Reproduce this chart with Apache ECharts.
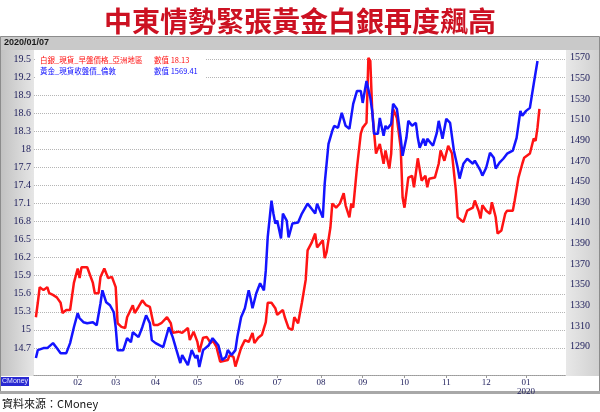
<!DOCTYPE html>
<html><head><meta charset="utf-8">
<script src="https://cdn.jsdelivr.net/npm/echarts@6/dist/echarts.min.js"></script>
<style>html,body{margin:0;padding:0;background:#fff;}#c{width:600px;height:412px;}</style>
</head><body><div id="c"></div>
<script>
// ---- data (trading-day index from 2019-01-01, value) ----
const silverDays = [1,2,3,5,7,8,10,12,14,15,17,19,21,23,24,25,28,29,31,32,34,35,37,39,41,43,44,46,48,49,52,53,55,57,59,61,63,65,67,70,72,73,76,78,81,82,84,86,87,89,91,93,94,96,98,99,102,103,105,106,107,109,111,113,115,116,118,120,122,123,125,127,128,131,132,134,136,137,139,141,143,144,146,148,149,152,153,154,156,157,159,161,163,164,166,167,168,170,172,173,175,176,177,178,180,182,184,185,187,188,189,191,193,194,195,197,199,200,202,204,206,207,208,211,213,214,216,218,220,222,223,226,228,231,232,234,235,236,238,240,241,243,244,246,248,249,252,253,255,257,258,261,263,264,265,266];
const silverValues = [15.21,15.45,15.71,15.66,15.71,15.61,15.58,15.54,15.45,15.28,15.33,15.33,15.78,16.02,15.86,16.04,16.04,16.02,15.78,15.61,15.61,15.88,16.02,15.86,15.88,15.71,15.11,15.05,15.03,15.21,15.41,15.28,15.38,15.49,15.41,15.38,15.08,15.08,15.11,15.21,15.11,14.95,14.97,14.95,15.03,14.83,14.97,14.80,14.63,14.87,14.88,14.78,14.83,14.72,14.47,14.45,14.50,14.58,14.55,14.39,14.42,14.70,14.83,14.80,14.95,14.78,14.87,14.92,15.13,15.45,15.45,15.36,15.25,15.33,15.21,15.03,15.00,15.21,15.11,15.45,15.83,16.32,16.44,16.60,16.37,16.49,16.19,16.29,16.70,17.10,17.03,17.10,17.27,17.07,16.87,17.10,17.03,17.70,18.26,18.36,18.44,19.52,19.47,18.64,17.93,18.09,17.76,17.98,17.68,17.93,18.67,18.52,18.03,17.20,17.03,17.53,17.56,17.37,17.85,17.48,17.56,17.37,17.51,17.53,17.76,17.98,17.81,18.06,17.93,17.32,16.87,16.79,16.98,17.03,17.15,16.98,16.85,17.07,16.98,16.93,17.12,16.87,16.60,16.65,16.93,16.98,16.98,17.15,17.53,17.76,17.86,17.93,18.18,18.14,18.36,18.67];
const goldDays = [1,2,3,5,7,8,10,12,14,15,17,19,21,23,24,26,28,29,31,33,35,36,38,40,42,43,44,47,49,51,52,53,55,57,59,61,62,64,66,68,71,73,75,77,78,81,83,85,86,87,89,92,94,97,99,101,102,104,106,107,109,111,113,114,115,117,119,121,122,123,125,126,127,128,130,131,133,134,136,139,141,144,146,148,149,152,153,155,157,158,160,162,164,166,168,170,172,173,175,177,178,179,181,182,184,185,186,188,189,191,193,194,196,197,199,201,202,203,205,206,207,210,212,213,215,216,217,219,221,223,224,226,228,231,232,235,236,238,240,242,243,245,247,249,252,254,256,257,259,261,263,265];
const goldValues = [1278.9,1286.6,1284.7,1288.6,1288.6,1290.5,1293.4,1288.6,1283.7,1281.8,1283.7,1293.4,1308.8,1322.4,1317.5,1313.7,1312.7,1310.8,1313.7,1310.8,1332.0,1344.6,1333.0,1330.1,1323.3,1308.8,1286.6,1286.6,1298.2,1294.3,1304.0,1305.9,1299.2,1308.8,1320.4,1312.7,1296.3,1293.4,1291.4,1289.5,1308.8,1299.2,1286.6,1274.1,1281.8,1272.1,1286.6,1278.9,1281.8,1270.2,1286.6,1291.4,1298.2,1291.4,1277.0,1279.9,1286.6,1281.8,1286.6,1299.2,1318.5,1327.2,1344.6,1336.9,1327.2,1341.7,1351.4,1344.6,1363.9,1395.8,1431.5,1419.0,1409.3,1412.2,1394.8,1419.0,1412.2,1395.8,1409.3,1410.3,1419.0,1428.6,1423.8,1419.0,1428.6,1415.1,1448.0,1486.6,1499.2,1504.0,1502.1,1516.6,1504.0,1501.1,1525.3,1537.8,1537.8,1526.2,1547.5,1531.1,1518.5,1496.3,1496.3,1511.7,1494.3,1504.0,1501.1,1505.9,1525.3,1520.4,1492.4,1475.0,1492.4,1508.8,1504.0,1506.9,1492.4,1482.8,1491.4,1484.7,1491.4,1484.7,1497.2,1508.8,1491.4,1501.1,1510.8,1506.9,1479.9,1463.4,1452.8,1467.3,1472.1,1467.3,1470.2,1460.5,1455.7,1463.4,1477.9,1473.1,1462.5,1468.3,1472.1,1477.0,1479.9,1492.4,1518.5,1513.7,1518.5,1521.4,1544.6,1566.8];
const leftTicks = [19.5,19.2,18.9,18.6,18.3,18,17.7,17.4,17.1,16.8,16.5,16.2,15.9,15.6,15.3,15,14.7];
const rightTicks = [1570,1550,1530,1510,1490,1470,1450,1430,1410,1390,1370,1350,1330,1310,1290];
const monthLabels = ['02','03','04','05','06','07','08','09','10','11','12','01'];
const monthStartDays = [23,43,64,86,108,128,151,173,195,217,238,259];
const yearLabel = '2020';
const silverName = '白銀_現貨_早盤價格_亞洲地區';
const goldName = '黃金_現貨收盤價_倫敦';
const silverLast = '18.13';
const goldLast = '1569.41';
const dateText = '2020/01/07';
const titleText = '中東情勢緊張黃金白銀再度飆高';
const sourceText = '資料來源：CMoney';

const nDays = 281;
const cats = Array.from({length: nDays}, (_, i) => String(i));
const monthMap = {};
monthStartDays.forEach((d, i) => { monthMap[d] = monthLabels[i] + (monthLabels[i] === '01' ? '\n' + yearLabel : ''); });
const isMonth = (idx) => monthMap[idx] !== undefined;

const navy = '#1c1c5a';
const serif = 'Liberation Serif';
const chart = echarts.init(document.getElementById('c'));
chart.setOption({
  animation: false,
  backgroundColor: 'transparent',
  title: {
    text: titleText, left: 'center', top: 2,
    textStyle: {fontSize: 28, color: '#cc1122', fontFamily: 'Noto Sans CJK TC', fontWeight: 'bold'}
  },
  graphic: [
    {type: 'rect', z: -10, shape: {x: 0.5, y: 36.5, width: 599, height: 357}, style: {fill: '#c9c9c9', stroke: '#8c8c8c', lineWidth: 1}},
    {type: 'rect', z: -9, shape: {x: 1, y: 50, width: 33, height: 326}, style: {fill: new echarts.graphic.LinearGradient(0, 0, 1, 0, [{offset: 0, color: '#c2c2c2'}, {offset: 1, color: '#e6e6e6'}])}},
    {type: 'rect', z: -9, shape: {x: 566, y: 50, width: 33, height: 326}, style: {fill: new echarts.graphic.LinearGradient(0, 0, 1, 0, [{offset: 0, color: '#e8e8e8'}, {offset: 1, color: '#d0d0d0'}])}},
    {type: 'rect', z: -9, shape: {x: 1, y: 376, width: 598, height: 15}, style: {fill: '#ffffff'}},
    {type: 'rect', z: -8, shape: {x: 0, y: 391, width: 600, height: 3}, style: {fill: '#a8a8a8'}},
    {type: 'rect', z: 20, shape: {x: 1, y: 377, width: 28, height: 9}, style: {fill: '#2a2ad2'}},
    {type: 'text', z: 21, x: 2, y: 377.5, style: {text: 'CMoney', fill: '#e8e8ff', font: '7px "Liberation Sans"'}},
    {type: 'text', z: 21, x: 4, y: 38, style: {text: dateText, fill: '#1a1a1a', font: 'bold 9px "Liberation Sans"'}},
    {type: 'text', z: 21, x: 2, y: 398, style: {text: sourceText, fill: '#111', font: '11px "Noto Sans CJK TC"'}},
    {type: 'rect', z: 50, shape: {x: 35, y: 51, width: 171, height: 31}, style: {fill: '#ffffff'}},
    {type: 'text', z: 51, x: 40, y: 56, style: {text: silverName, fill: '#ff1010', font: '7.5px "Noto Sans CJK TC"'}},
    {type: 'text', z: 51, x: 154, y: 56, style: {text: '數值 ' + silverLast, fill: '#ff1010', font: '7.5px "Noto Sans CJK TC"'}},
    {type: 'text', z: 51, x: 40, y: 67, style: {text: goldName, fill: '#1010ff', font: '7.5px "Noto Sans CJK TC"'}},
    {type: 'text', z: 51, x: 154, y: 67, style: {text: '數值 ' + goldLast, fill: '#1010ff', font: '7.5px "Noto Sans CJK TC"'}}
  ],
  grid: {left: 34, right: 34, top: 50, bottom: 37, show: true, backgroundColor: '#ffffff', borderWidth: 0},
  xAxis: {
    type: 'category', data: cats, boundaryGap: false,
    axisLine: {lineStyle: {color: '#9a9a9a', type: 'dotted', width: 1}},
    axisTick: {show: true, interval: (i) => isMonth(i), length: 3, lineStyle: {color: '#9a9a9a'}},
    axisLabel: {interval: (i) => isMonth(i), formatter: (v, i) => monthMap[i] || '', color: navy, fontFamily: serif, fontSize: 9, lineHeight: 9, margin: 3},
    splitLine: {show: false}
  },
  yAxis: [
    {type: 'value', position: 'left', min: 14.25, max: 19.65, interval: 0.15,
     axisLine: {show: false}, axisTick: {show: false}, splitLine: {show: false},
     axisLabel: {margin: 3, color: navy, fontFamily: serif, fontSize: 10, showMinLabel: false, showMaxLabel: false,
       formatter: (v) => { const r = Math.round(v * 100) / 100; return leftTicks.some(t => Math.abs(t - r) < 1e-6) ? String(r) : ''; }}},
    {type: 'value', position: 'right', min: 1262.5, max: 1577.5, interval: 2.5,
     axisLine: {show: false}, axisTick: {show: false}, splitLine: {show: false},
     axisLabel: {margin: 4, color: navy, fontFamily: serif, fontSize: 10, showMinLabel: false, showMaxLabel: false,
       formatter: (v) => { const r = Math.round(v * 10) / 10; return rightTicks.some(t => Math.abs(t - r) < 1e-6) ? String(r) : ''; }}}
  ],
  series: [
    {type: 'line', name: silverName, yAxisIndex: 0, z: 4, symbol: 'none',
     data: silverDays.map((d, i) => [d, silverValues[i]]),
     lineStyle: {color: '#ff1414', width: 2.5},
     markLine: {silent: true, z: 1, symbol: 'none', label: {show: false},
       lineStyle: {color: '#b5b5b5', type: 'dotted', width: 1},
       data: leftTicks.map(v => ({yAxis: v}))}},
    {type: 'line', name: goldName, yAxisIndex: 1, z: 5, symbol: 'none',
     data: goldDays.map((d, i) => [d, goldValues[i]]),
     lineStyle: {color: '#1414ff', width: 2.5}}
  ]
});
</script></body></html>
